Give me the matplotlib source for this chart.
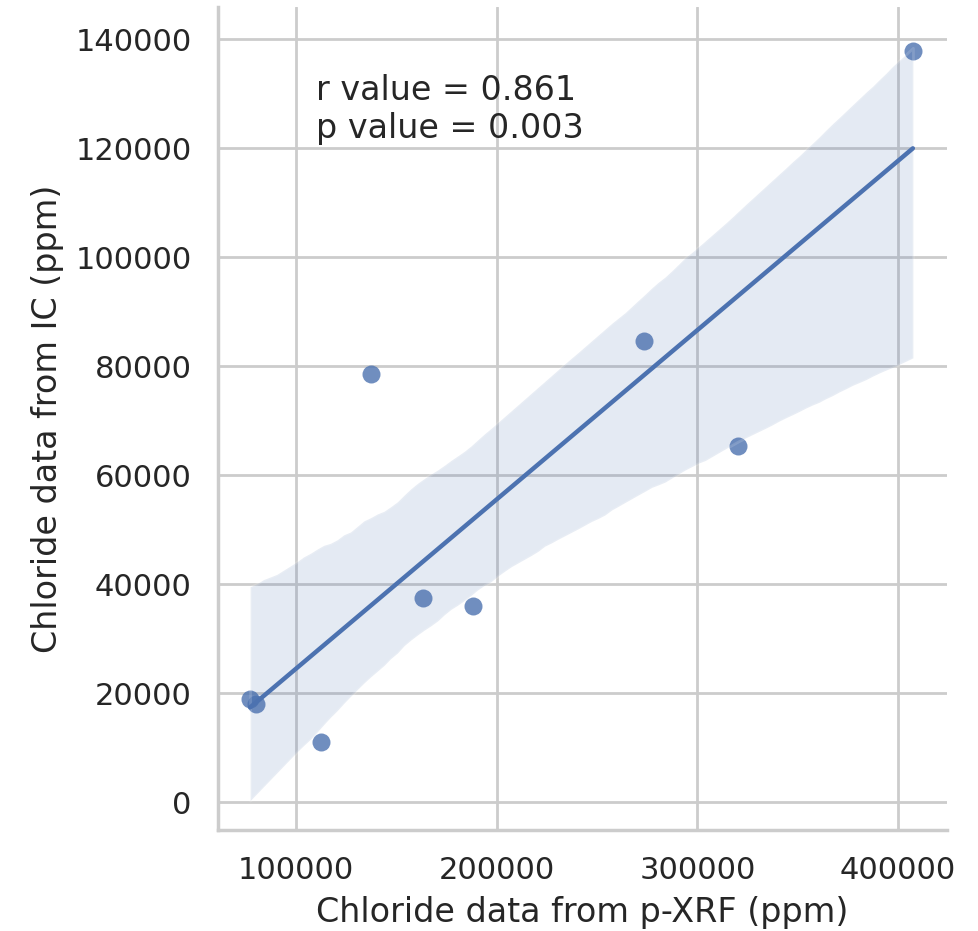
import numpy as np
import matplotlib
matplotlib.use("Agg")
import matplotlib.pyplot as plt
import seaborn as sns

# chloride measured by portable XRF vs ion chromatography (ppm)
xrf_cl = [77100, 80100, 112500, 137400, 163300, 188200, 273400, 320200, 407400]
ic_cl = [18900, 18000, 11000, 78500, 37400, 36000, 84600, 65300, 137800]
stats_text = ["r value = 0.861", "p value = 0.003"]

sns.set_theme(style="whitegrid", context="notebook")
blue = sns.color_palette("deep")[0]

fig = plt.figure(figsize=(979 / 200, 931 / 200), dpi=200)
ax = fig.add_axes([0.2227, 0.1085, 0.7446, 0.884])

# scatter + OLS fit with bootstrapped 95% band
sns.regplot(x=np.array(xrf_cl, dtype=float), y=np.array(ic_cl, dtype=float),
            ax=ax, color=blue, ci=95, n_boot=1000, seed=7, truncate=True,
            scatter_kws={"s": 42, "linewidths": 0},
            line_kws={"lw": 1.6})

ax.text(110000, 120500, "\n".join(stats_text), fontsize=12, color=".15",
        ha="left", va="bottom")

ax.set_xlim(61100, 424400)
ax.set_ylim(-5100, 145900)
ax.set_xticks([100000, 200000, 300000, 400000])
ax.set_yticks(np.arange(0, 140001, 20000))
ax.set_xlabel("Chloride data from p-XRF (ppm)")
ax.set_ylabel("Chloride data from IC (ppm)")
sns.despine(ax=ax)

fig.savefig("out.png", dpi=200)
